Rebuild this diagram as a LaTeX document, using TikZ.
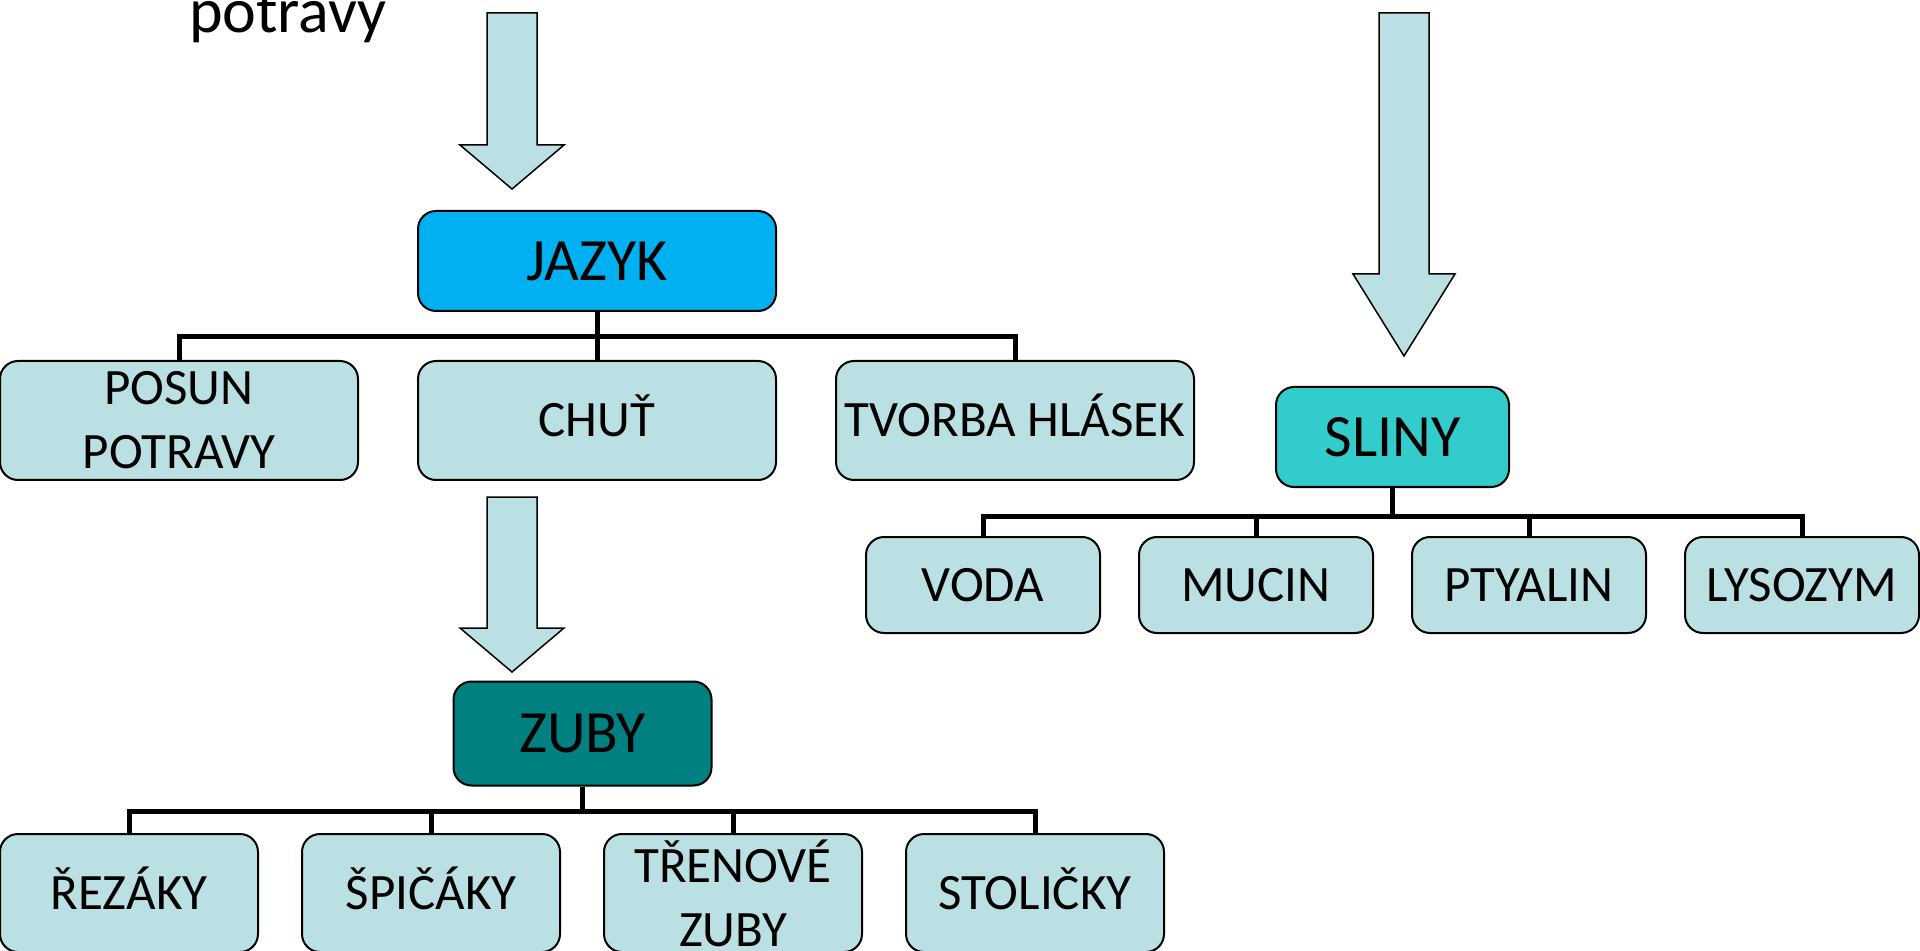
\documentclass[tikz,border=0pt]{standalone}
\usepackage{fontspec}
\setmainfont{Carlito}
\definecolor{boxblue}{HTML}{BAE0E3}
\definecolor{tongueblue}{HTML}{00B0F0}
\definecolor{salivacyan}{HTML}{33CCCC}
\definecolor{teethteal}{HTML}{008080}

\tikzset{
  leafbox/.style={draw, line width=1pt, rounded corners=9pt, fill=boxblue,
    inner sep=0pt, align=center, font=\fontsize{25.5}{32}\selectfont},
  capline/.style={text height=16.4pt, text depth=0pt},
  rootbox/.style={leafbox, font=\fontsize{30}{36}\selectfont,
    text height=19.3pt, text depth=0pt, minimum height=50pt},
  branch/.style={line width=2.5pt},
  fatarrow/.style={draw, line width=0.75pt, fill=boxblue, line join=miter},
}

\begin{document}
\begin{tikzpicture}[x=0.5pt, y=-0.5pt]
\useasboundingbox (0,0) rectangle (1920,951);
\clip (0,0) rectangle (1920,951);

% Heading fragment
\node[font=\fontsize{32}{38}\selectfont, anchor=base] (potravy) at (288,33) {potravy};

% Block arrows
\foreach \x/\ya/\yb/\yc/\w in {512/13/145/189/52, 512/497/628/672/52, 1404/13/274/356/51} {
  \draw[fatarrow] (\x-25,\ya) -- (\x+25,\ya) -- (\x+25,\yb) -- (\x+\w,\yb)
    -- (\x,\yc) -- (\x-\w,\yb) -- (\x-25,\yb) -- cycle;
}

% Tongue
\node[rootbox, fill=tongueblue, minimum width=179pt] (jazyk) at (597,261) {JAZYK};
\node[leafbox, minimum width=179pt, minimum height=59.5pt] (posun) at (179,420.5) {POSUN\\POTRAVY};
\node[leafbox, capline, minimum width=179pt, minimum height=59.5pt] (chut) at (597,420.5) {CHUŤ};
\node[leafbox, capline, minimum width=179pt, minimum height=59.5pt] (tvorba) at (1015,420.5) {TVORBA HLÁSEK};
\foreach \kid in {posun, chut, tvorba}
  \draw[branch] (jazyk.south) -- ++(0,25) -| (\kid.north);

% Saliva
\node[rootbox, fill=salivacyan, minimum width=116.5pt] (sliny) at (1392.5,437) {SLINY};
\node[leafbox, capline, minimum width=117pt, minimum height=48pt] (voda) at (983,585) {VODA};
\node[leafbox, capline, minimum width=117pt, minimum height=48pt] (mucin) at (1256,585) {MUCIN};
\node[leafbox, capline, minimum width=117pt, minimum height=48pt] (ptyalin) at (1529,585) {PTYALIN};
\node[leafbox, capline, minimum width=117pt, minimum height=48pt] (lysozym) at (1802,585) {LYSOZYM};
\foreach \kid in {voda, mucin, ptyalin, lysozym}
  \draw[branch] (sliny.south) -- ++(0,28) -| (\kid.north);

% Teeth
\node[rootbox, fill=teethteal, minimum width=129pt, minimum height=52pt] (zuby) at (582.5,733.5) {ZUBY};
\node[leafbox, capline, minimum width=129pt, minimum height=59pt] (rezaky) at (129,893) {ŘEZÁKY};
\node[leafbox, capline, minimum width=129pt, minimum height=59pt] (spicaky) at (431,893) {ŠPIČÁKY};
\node[leafbox, minimum width=129pt, minimum height=59pt] (trenove) at (733,893) {TŘENOVÉ\\ZUBY};
\node[leafbox, capline, minimum width=129pt, minimum height=59pt] (stolicky) at (1035,893) {STOLIČKY};
\foreach \kid in {rezaky, spicaky, trenove, stolicky}
  \draw[branch] (zuby.south) -- ++(0,25) -| (\kid.north);
\end{tikzpicture}
\end{document}
